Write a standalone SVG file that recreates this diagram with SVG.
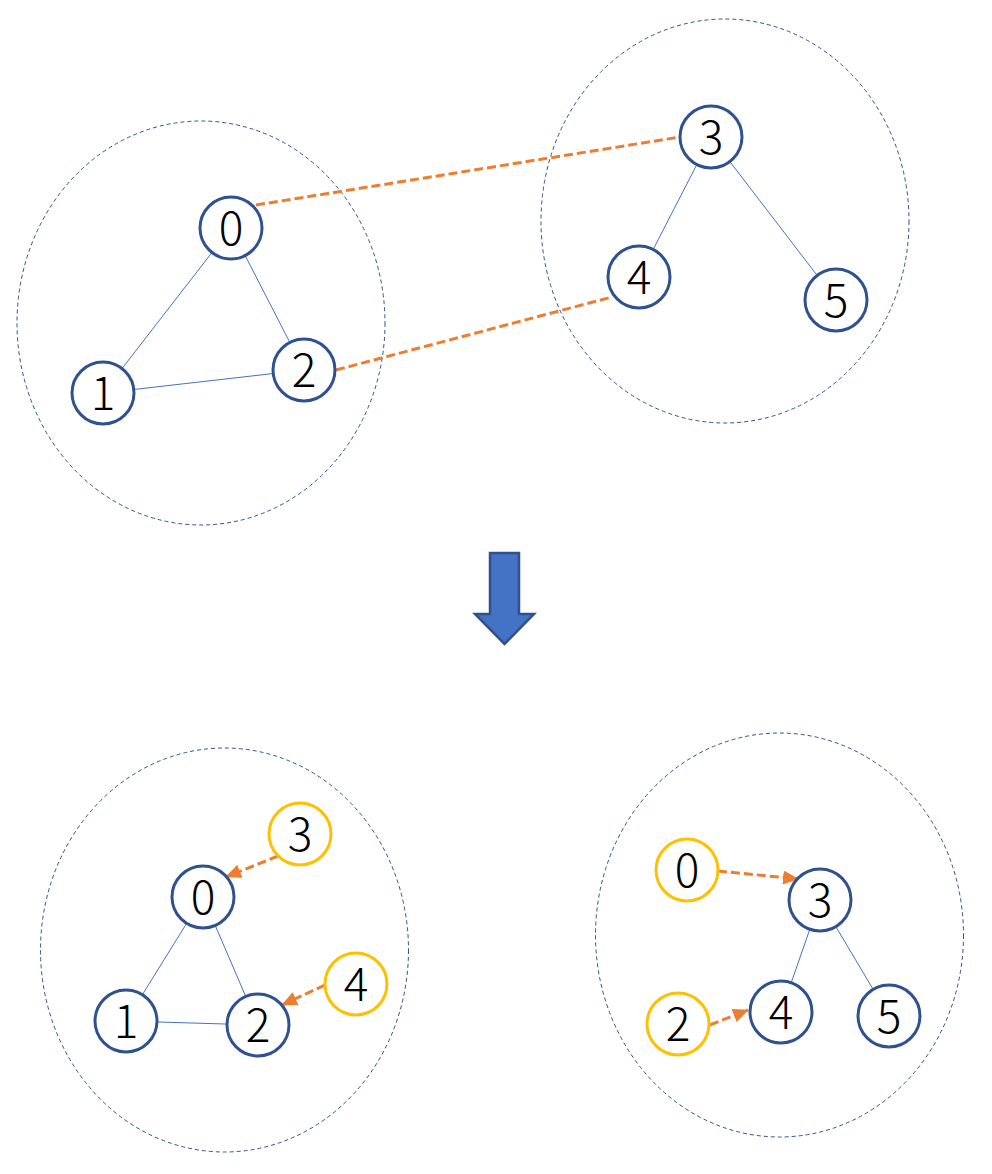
<svg xmlns="http://www.w3.org/2000/svg" width="992" height="1174" viewBox="0 0 992 1174">
<style>
.grp{fill:none;stroke:#2F528F;stroke-width:1;stroke-dasharray:4 3}
.n{fill:#fff;stroke:#2F528F;stroke-width:3}
.y{fill:#fff;stroke:#FFC000;stroke-width:3}
.e{stroke:#4472C4;stroke-width:1;fill:none}
.o{stroke:#ED7D31;stroke-width:3;stroke-dasharray:9 4;fill:none}
text{font-family:"Noto Sans CJK SC","Noto Sans","Liberation Sans",sans-serif;font-weight:300;font-size:46px;fill:#000;text-anchor:middle}
</style>
<defs>
<marker id="ah" markerUnits="userSpaceOnUse" markerWidth="16" markerHeight="14" refX="15" refY="7" orient="auto">
<path d="M0,0 L16,7 L0,14 Z" fill="#ED7D31"/>
</marker>
</defs>
<rect width="992" height="1174" fill="#fff"/>
<g id="groups">
<ellipse class="grp" cx="201" cy="323" rx="184" ry="202"/>
<ellipse class="grp" cx="725" cy="221" rx="184" ry="202"/>
<ellipse class="grp" cx="224.5" cy="950" rx="184" ry="202"/>
<ellipse class="grp" cx="779.5" cy="935" rx="184" ry="202"/>
</g>
<g id="connectors">
<line class="e" x1="231" y1="228" x2="103" y2="393"/>
<line class="e" x1="231" y1="228" x2="304" y2="370"/>
<line class="e" x1="103" y1="393" x2="304" y2="370"/>
<line class="e" x1="711" y1="137" x2="639" y2="277"/>
<line class="e" x1="711" y1="137" x2="836" y2="300"/>
<line class="o" x1="256" y1="205" x2="680" y2="137"/>
<line class="o" x1="336" y1="370" x2="612" y2="297"/>
<line class="e" x1="203" y1="897" x2="126" y2="1021"/>
<line class="e" x1="203" y1="897" x2="258" y2="1025"/>
<line class="e" x1="126" y1="1021" x2="258" y2="1025"/>
<line class="e" x1="820" y1="900" x2="781" y2="1012"/>
<line class="e" x1="820" y1="900" x2="889" y2="1016"/>
<line class="o" x1="278" y1="856" x2="226" y2="877" marker-end="url(#ah)"/>
<line class="o" x1="325" y1="985" x2="282" y2="1005" marker-end="url(#ah)"/>
<line class="o" x1="718" y1="871" x2="798" y2="879" marker-end="url(#ah)"/>
<line class="o" x1="710" y1="1025" x2="748" y2="1010" marker-end="url(#ah)"/>
</g>
<g id="arrow">
<path d="M490,553 L519,553 L519,614 L534,614 L504.5,644 L475,614 L490,614 Z" fill="#4472C4" stroke="#2F528F" stroke-width="2.5" stroke-linejoin="miter"/>
</g>
<g id="t0"><circle class="n" cx="231" cy="228" r="31"/><text x="231" y="244.5">0</text></g>
<g id="t1"><circle class="n" cx="103" cy="393" r="31"/><text x="103" y="409.5">1</text></g>
<g id="t2"><circle class="n" cx="304" cy="370" r="31"/><text x="304" y="386.5">2</text></g>
<g id="t3"><circle class="n" cx="711" cy="137" r="31"/><text x="711" y="153.5">3</text></g>
<g id="t4"><circle class="n" cx="639" cy="277" r="31"/><text x="639" y="293.5">4</text></g>
<g id="t5"><circle class="n" cx="836" cy="300" r="31"/><text x="836" y="316.5">5</text></g>
<g id="bl0"><circle class="n" cx="203" cy="897" r="31"/><text x="203" y="913.5">0</text></g>
<g id="bl1"><circle class="n" cx="126" cy="1021" r="31"/><text x="126" y="1037.5">1</text></g>
<g id="bl2"><circle class="n" cx="258" cy="1025" r="31"/><text x="258" y="1041.5">2</text></g>
<g id="bl3"><circle class="y" cx="300" cy="834" r="31"/><text x="300" y="850.5">3</text></g>
<g id="bl4"><circle class="y" cx="356" cy="984" r="31"/><text x="356" y="1000.5">4</text></g>
<g id="br0"><circle class="y" cx="687" cy="870" r="31"/><text x="687" y="886.5">0</text></g>
<g id="br3"><circle class="n" cx="820" cy="900" r="31"/><text x="820" y="916.5">3</text></g>
<g id="br4"><circle class="n" cx="781" cy="1012" r="31"/><text x="781" y="1028.5">4</text></g>
<g id="br5"><circle class="n" cx="889" cy="1016" r="31"/><text x="889" y="1032.5">5</text></g>
<g id="br2"><circle class="y" cx="678" cy="1024" r="31"/><text x="678" y="1040.5">2</text></g>
</svg>
